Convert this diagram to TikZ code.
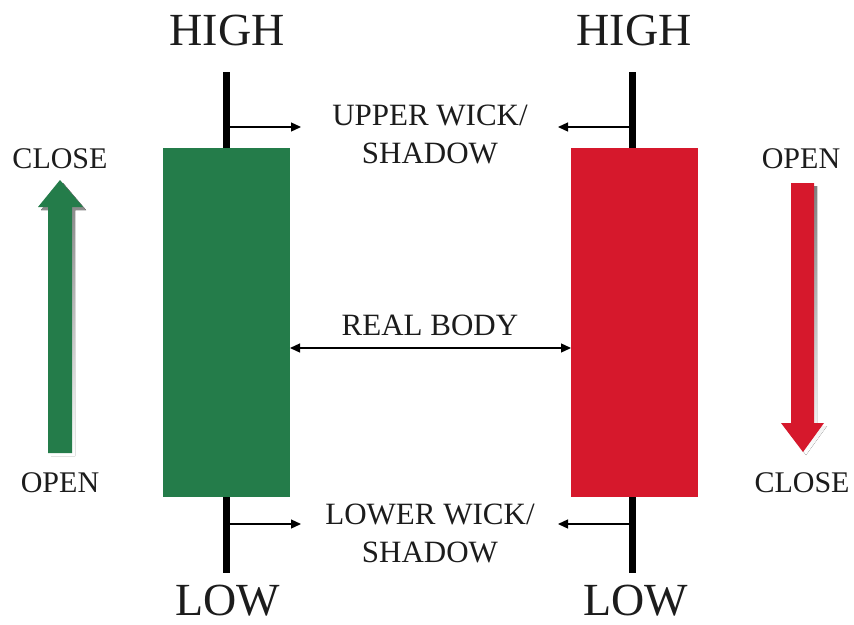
\documentclass[tikz,border=0pt]{standalone}
\usepackage{fontspec}
\setmainfont{Liberation Serif}
\usetikzlibrary{arrows.meta}
\definecolor{bull}{RGB}{36,124,74}
\definecolor{bear}{RGB}{214,24,44}
\definecolor{txt}{RGB}{28,28,28}
\definecolor{shade}{RGB}{228,228,228}
\tikzset{
  body/.style={inner sep=0pt, outer sep=0pt, minimum width=127pt, minimum height=349pt, anchor=north west},
  wick/.style={line width=7pt, black},
  pointer/.style={line width=1.3pt, -{Triangle[length=10pt,width=9pt]}},
  big/.style={text=txt, font=\fontsize{46}{46}\selectfont, inner sep=0pt, anchor=base},
  lab/.style={text=txt, font=\fontsize{31}{38}\selectfont, inner sep=0pt, align=center},
  side/.style={text=txt, font=\fontsize{30}{30}\selectfont, inner sep=0pt},
}
\begin{document}
\begin{tikzpicture}[x=1pt,y=-1pt]
\useasboundingbox[fill=white] (0,0) rectangle (854,624);

% bodies
\node[body, fill=bull] (gbody) at (163,148) {};
\node[body, fill=bear] (rbody) at (571,148) {};

% wick ends
\coordinate (ghigh) at (gbody.north |- 0,72);
\coordinate (glow)  at (gbody.south |- 0,573);
\coordinate (rhigh) at (632,72);
\coordinate (rlow)  at (632,573);
\coordinate (rtop)  at (632,148);
\coordinate (rbot)  at (632,497);

\draw[wick] (ghigh) -- (gbody.north);
\draw[wick] (gbody.south) -- (glow);
\draw[wick] (rhigh) -- (rtop);
\draw[wick] (rbot) -- (rlow);

% wick pointers
\coordinate (gu0) at (230,127);
\coordinate (gu1) at (301,127);
\coordinate (ru0) at (629,127);
\coordinate (ru1) at (558,127);
\coordinate (gl0) at (230,524);
\coordinate (gl1) at (301,524);
\coordinate (rl0) at (629,524);
\coordinate (rl1) at (558,524);
\draw[pointer] (gu0) -- (gu1);
\draw[pointer] (ru0) -- (ru1);
\draw[pointer] (gl0) -- (gl1);
\draw[pointer] (rl0) -- (rl1);

% real body arrow
\draw[line width=1.3pt, {Triangle[length=10pt,width=9pt]}-{Triangle[length=10pt,width=9pt]}]
  (gbody.east |- 0,348) -- (rbody.west |- 0,348);

% labels
\node[big] (h1) at (227,45) {HIGH};
\node[big] (h2) at (634,45) {HIGH};
\node[big] (l1) at (228,615) {LOW};
\node[big] (l2) at (636,615) {LOW};
\node[lab] (uw) at (430,134) {UPPER WICK/\\SHADOW};
\node[lab] (lw) at (430,533) {LOWER WICK/\\SHADOW};
\node[lab] (rb) at (430,325) {REAL BODY};
\node[side] (c1) at (60,159) {CLOSE};
\node[side] (o1) at (60,483) {OPEN};
\node[side] (o2) at (801,159) {OPEN};
\node[side] (c2) at (802,483) {CLOSE};

% direction arrows with shadow
\fill[shade] (51,456) -- (75,456) -- (75,210) -- (86,210) -- (63,183) -- (41,210) -- (51,210) -- cycle;
\fill[bull] (48,453) -- (72,453) -- (72,207) -- (83,207) -- (60,180) -- (38,207) -- (48,207) -- cycle;
\fill[shade] (794,186) -- (817,186) -- (817,426) -- (827,426) -- (806,455) -- (784,426) -- (794,426) -- cycle;
\fill[bear] (791,183) -- (814,183) -- (814,423) -- (824,423) -- (803,452) -- (781,423) -- (791,423) -- cycle;
\end{tikzpicture}
\end{document}
